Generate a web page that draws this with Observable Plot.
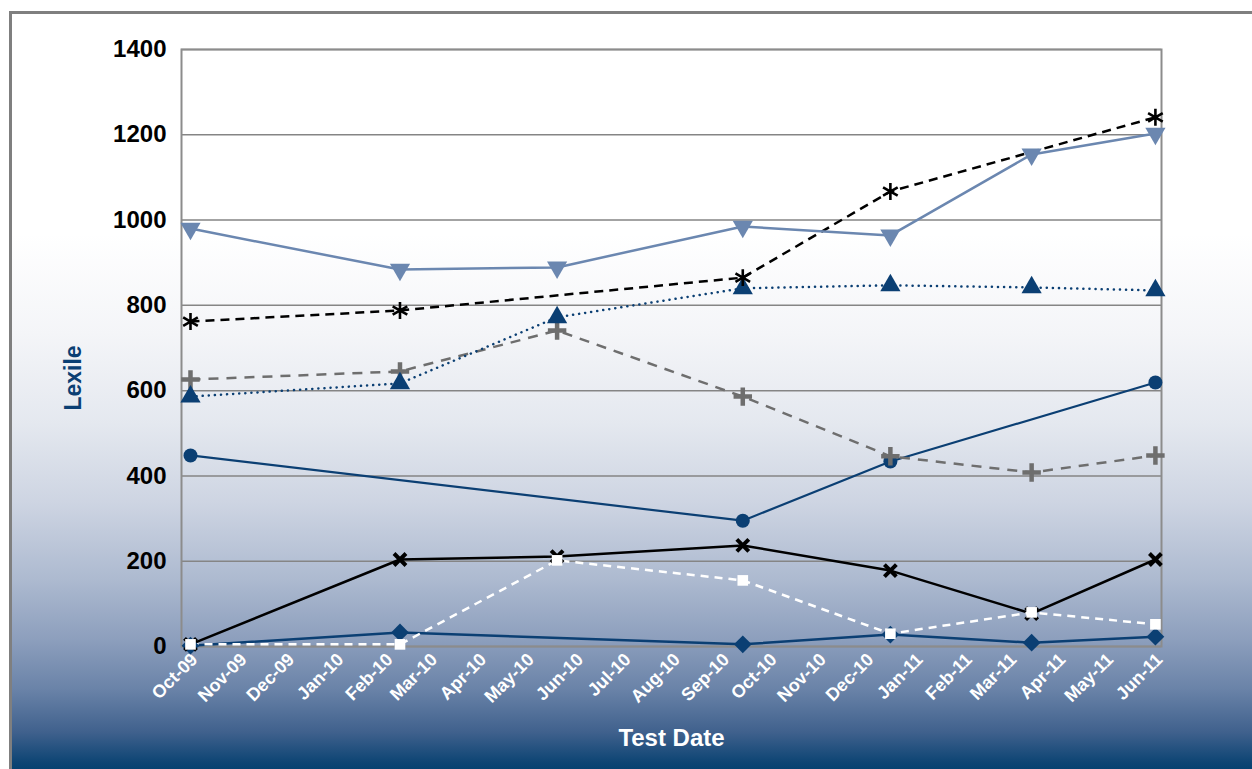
<!DOCTYPE html>
<html><head><meta charset="utf-8">
<script src="https://cdn.jsdelivr.net/npm/d3@7"></script>
<script src="https://cdn.jsdelivr.net/npm/@observablehq/plot@0.6"></script>
<style>
html,body{margin:0;padding:0;width:1252px;height:769px;overflow:hidden;background:#fff;}
#bg{position:absolute;left:9px;top:11px;width:1300px;height:800px;border-left:3px solid #7f7f7f;border-top:3px solid #7f7f7f;
background:linear-gradient(to bottom,#ffffff 0px,#ffffff 220px,#f4f5f8 320px,#e4e8ef 410px,#cdd4e2 490px,#adbad0 565px,#8d9fbd 625px,#6a83a8 675px,#40618d 718px,#0e4574 748px,#003e6e 760px,#003e6e 800px);}
#chart{position:absolute;left:0;top:0;}
</style></head><body><div id="bg"></div><div id="chart"></div>
<script>
// ---- data ----
const dates = ["2009-10-01","2010-02-10","2010-05-20","2010-09-14","2010-12-16","2011-03-15","2011-06-01"];
const seriesDownTri = [980, 884, 889, 985, 964, 1154, 1203];
const seriesAsterisk = [762, 788, null, 865, 1067, null, 1241];
const seriesUpTri = [586, 617, 772, 840, 847, 842, 835];
const seriesPlus = [626, 645, 741, 586, 446, 408, 448];
const seriesCircle = [448, null, null, 295, 434, null, 619];
const seriesCross = [5, 204, 211, 237, 178, 77, 204];
const seriesSquare = [5, 5, 202, 155, 30, 80, 52];
const seriesDiamond = [2, 33, null, 5, 28, 9, 23];
const yTicks = [0, 200, 400, 600, 800, 1000, 1200, 1400];
const xTickDates = ["2009-10-01","2009-11-01","2009-12-01","2010-01-01","2010-02-01","2010-03-01","2010-04-01","2010-05-01","2010-06-01","2010-07-01","2010-08-01","2010-09-01","2010-10-01","2010-11-01","2010-12-01","2011-01-01","2011-02-01","2011-03-01","2011-04-01","2011-05-01","2011-06-01"];
const xTickLabels = ["Oct-09","Nov-09","Dec-09","Jan-10","Feb-10","Mar-10","Apr-10","May-10","Jun-10","Jul-10","Aug-10","Sep-10","Oct-10","Nov-10","Dec-10","Jan-11","Feb-11","Mar-11","Apr-11","May-11","Jun-11"];
const xTitle = "Test Date";
const yTitle = "Lexile";

// ---- styles ----
const NAVY = "#0b3f73", STEEL = "#6b87b0", GRAY = "#6e6e6e";
const FONT = "'Liberation Sans',Arial,sans-serif";
const parse = d3.utcParse("%Y-%m-%d");
const series = [
  {values: seriesDiamond, stroke: NAVY, sw: 2.5, dash: null, symbol: "diamond2", r: 8, fill: NAVY, mstroke: "none"},
  {values: seriesCross, stroke: "#000", sw: 2.5, dash: null, symbol: "times", r: 5.5, fill: "none", mstroke: "#000", msw: 4},
  {values: seriesSquare, stroke: "#fff", sw: 2.5, dash: "8,6", symbol: "square", r: 6, fill: "#fff", mstroke: "none"},
  {values: seriesCircle, stroke: NAVY, sw: 2.2, dash: null, symbol: "circle", r: 7, fill: NAVY, mstroke: "none"},
  {values: seriesPlus, stroke: GRAY, sw: 2.5, dash: "10,8", symbol: "plus", r: 6, fill: "none", mstroke: GRAY, msw: 4.5},
  {values: seriesUpTri, stroke: NAVY, sw: 2.5, dash: "0.1,6", cap: "round", symbol: "triangle", r: 7.5, fill: NAVY, mstroke: "none"},
  {values: seriesAsterisk, stroke: "#000", sw: 2.5, dash: "9,6", symbol: "asterisk", r: 8, fill: "none", mstroke: "#000", msw: 2.6},
  {values: seriesDownTri, stroke: STEEL, sw: 2.5, dash: null, symbol: "triangle", r: 7.5, fill: STEEL, mstroke: "none", rotate: 180}
];

const marks = [
  Plot.gridY(yTicks, {stroke: "#858585", strokeOpacity: 1, strokeWidth: 1.5}),
  Plot.frame({stroke: "#8c8c8c", strokeWidth: 2}),
  Plot.axisY(yTicks, {tickSize: 0, tickPadding: 15, fill: "#000", fontSize: 24, fontWeight: "bold", fontFamily: FONT, label: null,
    tickFormat: d => String(d)}),
  Plot.axisX(xTickDates.map(parse), {tickSize: 0, tickPadding: 8, tickRotate: -45, dx: 4, dy: 2, fill: "#fff", fontSize: 18, fontWeight: "bold", fontFamily: FONT, label: null,
    tickFormat: (d, i) => xTickLabels[i]}),
  Plot.text([yTitle], {frameAnchor: "left", textAnchor: "middle", lineAnchor: "middle", dx: -108, dy: 30, rotate: -90, fill: NAVY, fontSize: 23, fontWeight: "bold", fontFamily: FONT}),
  Plot.text([xTitle], {frameAnchor: "bottom", lineAnchor: "middle", dy: 92, fill: "#fff", fontSize: 24, fontWeight: "bold", fontFamily: FONT})
];
for (const s of series) {
  const rows = [];
  s.values.forEach((v, i) => { if (v != null) rows.push({date: parse(dates[i]), value: v}); });
  marks.push(Plot.line(rows, {x: "date", y: "value", stroke: s.stroke, strokeWidth: s.sw, strokeDasharray: s.dash, strokeLinecap: s.cap || "butt"}));
}
for (const s of series) {
  const rows = [];
  s.values.forEach((v, i) => { if (v != null) rows.push({date: parse(dates[i]), value: v}); });
  marks.push(Plot.dot(rows, {x: "date", y: "value", symbol: s.symbol, r: s.r, fill: s.fill, stroke: s.mstroke, strokeWidth: s.msw || 1, rotate: s.rotate || 0}));
}

const chart = Plot.plot({
  width: 1252, height: 769,
  marginLeft: 181, marginRight: 91, marginTop: 49, marginBottom: 123,
  style: {background: "transparent", overflow: "visible"},
  x: {type: "utc", domain: [new Date(Date.UTC(2009, 8, 25, 8)), new Date(Date.UTC(2011, 5, 4, 20))]},
  y: {domain: [0, 1400]},
  marks
});
document.getElementById("chart").appendChild(chart);
</script>
</body></html>
